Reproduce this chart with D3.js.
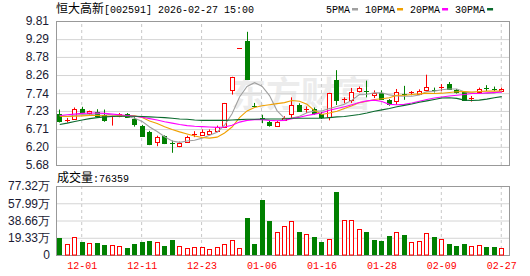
<!DOCTYPE html>
<html>
<head>
<meta charset="utf-8">
<script src="https://cdn.jsdelivr.net/npm/d3@7/dist/d3.min.js"></script>
<style>
  body { margin: 0; background: #fff; }
  svg { display: block; }
</style>
</head>
<body>
<div id="chart"></div>
<script>
// trading days shown on the chart
const dates = ["11-26","11-27","11-28","12-01","12-02","12-03","12-04","12-05","12-08","12-09",
  "12-10","12-11","12-12","12-15","12-16","12-17","12-18","12-19","12-22","12-23",
  "12-24","12-25","12-26","12-29","12-30","12-31","01-05","01-06","01-07","01-08",
  "01-09","01-12","01-13","01-14","01-15","01-16","01-19","01-20","01-21","01-22",
  "01-23","01-26","01-27","01-28","01-29","01-30","02-02","02-03","02-04","02-05",
  "02-06","02-09","02-10","02-11","02-12","02-13","02-24","02-25","02-26","02-27"];

const openP = [7.15,6.95,7.01,7.29,7.17,7.20,7.12,7.05,7.09,7.15,
  7.01,6.80,6.62,6.34,6.51,6.30,6.22,6.35,6.55,6.54,
  6.57,6.65,6.78,7.82,9.03,9.23,7.38,7.02,6.92,6.81,
  6.98,7.15,7.41,7.28,7.29,7.14,7.05,8.13,7.53,7.54,
  7.81,7.80,7.68,7.75,7.53,7.52,7.71,7.73,7.73,7.82,
  7.84,7.88,8.00,7.82,7.76,7.57,7.76,7.88,7.87,7.80];
const highP = [7.27,7.03,7.33,7.35,7.24,7.28,7.27,7.10,7.17,7.17,
  7.05,6.83,6.66,6.52,6.53,6.38,6.35,6.52,6.65,6.70,
  6.70,6.81,7.46,8.21,9.03,9.50,7.46,7.12,6.95,6.95,
  7.08,7.62,7.45,7.36,7.33,7.20,7.75,8.40,7.62,7.89,
  7.93,8.10,7.82,7.82,7.57,7.86,7.95,7.80,7.85,8.27,
  7.90,8.00,8.06,7.86,7.78,7.66,7.90,7.97,7.93,7.90];
const lowP = [6.90,6.90,6.99,7.19,7.12,7.05,6.92,6.81,7.05,7.03,
  6.78,6.50,6.25,6.22,6.28,6.03,6.19,6.32,6.48,6.52,
  6.54,6.62,6.74,7.70,9.03,8.13,7.33,6.88,6.78,6.78,
  6.95,7.03,7.20,7.17,7.12,7.00,6.96,7.40,7.45,7.46,
  7.76,7.62,7.60,7.55,7.38,7.41,7.55,7.68,7.70,7.80,
  7.76,7.80,7.85,7.73,7.52,7.50,7.74,7.80,7.80,7.77];
const closeP = [6.93,6.97,7.29,7.21,7.22,7.08,6.96,7.08,7.15,7.06,
  6.85,6.52,6.29,6.48,6.30,6.28,6.32,6.47,6.57,6.63,
  6.66,6.78,7.46,8.21,9.03,8.15,7.34,6.99,6.82,6.91,
  7.03,7.40,7.24,7.30,7.17,7.05,7.75,7.55,7.56,7.77,
  7.89,7.78,7.75,7.57,7.44,7.78,7.69,7.76,7.79,7.93,
  7.81,7.92,7.87,7.76,7.54,7.60,7.87,7.86,7.85,7.87];

// volume in 万 (10k shares)
const volume = [18.7,12.1,20.5,14.3,13.2,13.2,11.0,11.7,10.2,8.0,
  12.1,14.3,15.4,14.3,9.9,16.8,9.9,8.0,9.5,9.1,
  6.9,9.1,12.1,16.5,8.0,41.8,12.1,61.9,38.1,25.3,
  33.0,38.5,25.6,23.1,20.1,14.6,17.6,71.0,38.8,38.8,
  28.9,25.6,17.2,15.7,21.2,25.3,22.3,14.6,15.7,24.2,
  20.1,17.9,12.4,10.2,12.4,10.2,11.0,9.1,9.1,7.6359];

const ma5 = [7.10,7.08,7.10,7.13,7.12,7.15,7.15,7.11,7.10,7.07,
  7.02,6.93,6.77,6.64,6.49,6.37,6.33,6.37,6.39,6.45,
  6.53,6.62,6.82,7.15,7.63,7.93,8.04,7.94,7.67,7.24,
  7.02,7.03,7.08,7.18,7.23,7.23,7.30,7.36,7.42,7.54,
  7.70,7.71,7.75,7.75,7.69,7.66,7.65,7.65,7.69,7.79,
  7.80,7.84,7.86,7.86,7.78,7.74,7.73,7.73,7.74,7.81];
const ma10 = [7.08,7.07,7.08,7.09,7.10,7.10,7.09,7.08,7.09,7.10,
  7.09,7.04,6.94,6.87,6.78,6.70,6.63,6.57,6.51,6.47,
  6.45,6.48,6.60,6.77,7.04,7.23,7.33,7.38,7.41,7.44,
  7.47,7.53,7.51,7.42,7.24,7.13,7.17,7.22,7.30,7.38,
  7.47,7.51,7.56,7.58,7.61,7.68,7.68,7.70,7.72,7.74,
  7.73,7.74,7.76,7.78,7.79,7.77,7.79,7.80,7.80,7.80];
const ma20 = [7.10,7.12,7.14,7.16,7.17,7.17,7.16,7.14,7.12,7.10,
  7.08,7.05,7.01,6.97,6.92,6.88,6.84,6.81,6.79,6.78,
  6.77,6.76,6.77,6.82,6.91,6.96,6.98,6.98,6.96,6.95,
  6.96,7.01,7.05,7.10,7.14,7.18,7.25,7.30,7.35,7.41,
  7.47,7.52,7.54,7.50,7.42,7.41,7.42,7.46,7.51,7.56,
  7.60,7.63,7.66,7.68,7.70,7.73,7.73,7.75,7.76,7.77];
const ma30 = [6.84,6.88,6.93,6.97,7.01,7.04,7.06,7.07,7.08,7.08,
  7.08,7.07,7.06,7.05,7.04,7.02,7.00,6.99,6.97,6.96,
  6.96,6.96,6.96,6.97,6.98,6.99,6.99,7.00,7.00,7.00,
  7.00,7.02,7.02,7.02,7.02,7.02,7.04,7.06,7.07,7.10,
  7.13,7.17,7.22,7.26,7.30,7.35,7.39,7.43,7.48,7.52,
  7.56,7.60,7.61,7.59,7.54,7.53,7.54,7.57,7.61,7.64];

// axis tick values
const priceTicks = [5.68, 6.20, 6.71, 7.23, 7.74, 8.26, 8.78, 9.29, 9.81];
const volumeTicks = [0, 19.33, 38.66, 57.99, 77.32];
const dateTicks = ["12-01","12-11","12-23","01-06","01-16","01-28","02-09","02-27"];

const width = 530;
const height = 276;
const left = 56, right = 509;
const price = { top: 21, bottom: 165 };
const vol = { top: 186, bottom: 255 };

const RED = "#ff0000", GREEN = "#008000";
const monoFont = "'Liberation Mono', 'DejaVu Sans Mono', monospace";
const cjkFont = "'Noto Sans CJK SC', sans-serif";
const numFont = "'Liberation Sans', Arial, sans-serif";

const svg = d3.select("#chart")
  .append("svg")
  .attr("width", width)
  .attr("height", height);

const idx = d3.range(dates.length);

const x = d3.scaleBand()
  .domain(idx)
  .range([left, 505.5]);

const y = d3.scaleLinear()
  .domain([5.68, 9.81])
  .range([price.bottom, price.top]);

const yv = d3.scaleLinear()
  .domain([0, 77.32])
  .range([vol.bottom, vol.top]);

const cx = i => x(i) + x.bandwidth() / 2;
const tickIdx = dateTicks.map(t => dates.indexOf(t));

// watermark
svg.append("text")
  .attr("x", 231)
  .attr("y", 107)
  .style("font-family", cjkFont)
  .style("font-size", "35px")
  .style("font-weight", "bold")
  .style("fill", "#ececec")
  .text("东方财富");

// horizontal grid lines
function hGrid(scale, ticks, panel) {
  svg.append("g")
    .attr("transform", `translate(${left},0)`)
    .call(d3.axisLeft(scale).tickValues(ticks).tickSize(-(right - left)).tickFormat(""))
    .call(g => g.select(".domain").remove())
    .call(g => g.selectAll("line").attr("stroke", "#d4d4d4"));
}
hGrid(y, priceTicks.slice(1, -1));
hGrid(yv, volumeTicks.slice(1, -1));

// vertical dashed grid lines
function vGrid(panel) {
  svg.append("g")
    .attr("transform", `translate(0,${panel.bottom})`)
    .call(d3.axisBottom(x).tickValues(tickIdx).tickSize(-(panel.bottom - panel.top)).tickFormat(""))
    .call(g => g.select(".domain").remove())
    .call(g => g.selectAll("line")
      .attr("stroke", "#c8c8c8")
      .attr("stroke-dasharray", "3,3")
      .attr("transform", "translate(-0.5,0)"));
}
vGrid(price);
vGrid(vol);

// panel frames
[price, vol].forEach(p => {
  svg.append("rect")
    .attr("x", left + 0.5)
    .attr("y", p.top + 0.5)
    .attr("width", right - left)
    .attr("height", p.bottom - p.top)
    .attr("fill", "none")
    .attr("stroke", "#999");
});

// y axis labels
svg.append("g")
  .attr("transform", `translate(${left - 4},0)`)
  .call(d3.axisLeft(y).tickValues(priceTicks).tickSize(0).tickFormat(d3.format(".2f")))
  .call(g => g.select(".domain").remove())
  .call(g => g.selectAll("text")
    .style("font-family", numFont)
    .style("font-size", "12px")
    .attr("fill", "#1a1a33"));

svg.append("g")
  .attr("transform", `translate(${left - 3},0)`)
  .call(d3.axisLeft(yv).tickValues(volumeTicks).tickSize(0)
    .tickFormat(d => d === 0 ? "0" : d3.format(".2f")(d) + "万"))
  .call(g => g.select(".domain").remove())
  .call(g => g.selectAll("text")
    .style("font-family", numFont)
    .style("font-size", "12px")
    .attr("fill", "#1a1a33"));

// date labels
svg.append("g")
  .attr("transform", `translate(0,${vol.bottom})`)
  .call(d3.axisBottom(x).tickValues(tickIdx).tickSize(0).tickFormat(i => dates[i]))
  .call(g => g.select(".domain").remove())
  .call(g => g.selectAll("text")
    .attr("dy", "1.1em")
    .style("font-family", monoFont)
    .style("font-size", "10px")
    .attr("fill", RED));

// moving averages
const maSeries = [
  { name: "5PMA", values: ma5, color: "#a0a0a0" },
  { name: "10PMA", values: ma10, color: "#f0a000" },
  { name: "20PMA", values: ma20, color: "#ff00ff" },
  { name: "30PMA", values: ma30, color: "#0a6a2e" }
];

const line = d3.line()
  .x((d, i) => cx(i))
  .y(d => y(d));

// candles
const isUp = i => closeP[i] >= openP[i];
const bodyX = i => Math.round(cx(i) - 2.5);

const candles = svg.append("g");
idx.forEach(i => {
  const col = isUp(i) ? RED : GREEN;
  const wx = bodyX(i) + 2.5;
  candles.append("line")
    .attr("x1", wx).attr("x2", wx)
    .attr("y1", y(highP[i])).attr("y2", y(lowP[i]))
    .attr("stroke", col);
  const top = y(Math.max(openP[i], closeP[i]));
  const bot = y(Math.min(openP[i], closeP[i]));
  if (bot - top < 1.5) {
    candles.append("line")
      .attr("x1", bodyX(i)).attr("x2", bodyX(i) + 5)
      .attr("y1", Math.round(top) + 0.5).attr("y2", Math.round(top) + 0.5)
      .attr("stroke", col);
  } else if (isUp(i)) {
    candles.append("rect")
      .attr("x", bodyX(i) + 0.5).attr("y", Math.round(top) + 0.5)
      .attr("width", 4).attr("height", Math.round(bot) - Math.round(top))
      .attr("fill", "#fff").attr("stroke", col);
  } else {
    candles.append("rect")
      .attr("x", bodyX(i)).attr("y", Math.round(top))
      .attr("width", 5).attr("height", Math.round(bot) - Math.round(top) + 1)
      .attr("fill", col);
  }
});

svg.append("g")
  .selectAll("path")
  .data(maSeries)
  .enter()
  .append("path")
  .attr("d", d => line(d.values))
  .attr("fill", "none")
  .attr("stroke", d => d.color)
  .attr("stroke-width", 1.1);

// volume bars, coloured by change against previous close
const volUp = i => i === 0 ? closeP[0] >= openP[0] : closeP[i] >= closeP[i - 1];
idx.forEach(i => {
  const top = Math.round(yv(volume[i]));
  if (volUp(i)) {
    svg.append("rect")
      .attr("x", bodyX(i) + 0.5).attr("y", top + 0.5)
      .attr("width", 4).attr("height", vol.bottom - top - 0.5)
      .attr("fill", "#fff").attr("stroke", RED);
  } else {
    svg.append("rect")
      .attr("x", bodyX(i)).attr("y", top)
      .attr("width", 5).attr("height", vol.bottom - top)
      .attr("fill", GREEN);
  }
});

// title
const title = svg.append("text").attr("x", 56).attr("y", 13).attr("fill", "#000");
title.append("tspan").style("font-family", cjkFont).style("font-size", "12px").text("恒大高新");
title.append("tspan").style("font-family", monoFont).style("font-size", "10px").text("[002591] 2026-02-27 15:00");

// volume label
const vLabel = svg.append("text").attr("x", 57).attr("y", 182).attr("fill", "#000");
vLabel.append("tspan").style("font-family", cjkFont).style("font-size", "12px").text("成交量");
vLabel.append("tspan").style("font-family", monoFont).style("font-size", "10px")
  .text(":" + Math.round(volume[volume.length - 1] * 10000));

// legend
let lx = 326;
maSeries.forEach(s => {
  const t = svg.append("text")
    .attr("x", lx).attr("y", 12.5)
    .style("font-family", monoFont)
    .style("font-size", "10px")
    .attr("fill", "#000")
    .text(s.name);
  lx += t.node().getComputedTextLength() + 2;
  svg.append("rect")
    .attr("x", lx).attr("y", 8)
    .attr("width", 6).attr("height", 2.5)
    .attr("fill", s.color);
  lx += 13;
});
</script>
</body>
</html>
